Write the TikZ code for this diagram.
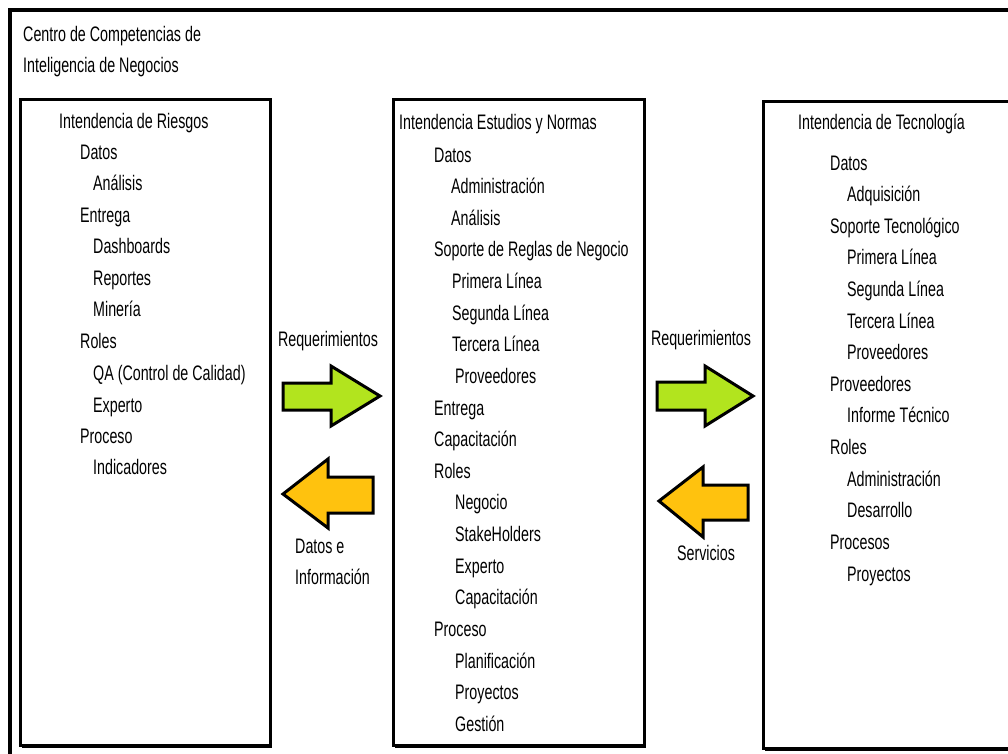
\documentclass[tikz,border=0pt]{standalone}
\usepackage{fontspec}
\setmainfont{Liberation Sans}[FakeStretch=0.68]
\definecolor{limeA}{RGB}{178,228,30}
\definecolor{goldA}{RGB}{255,194,14}
\begin{document}
\begin{tikzpicture}[x=1pt,y=-1pt,
  txt/.style={anchor=base west,inner sep=0pt,font=\fontsize{21}{25}\selectfont},
  ctxt/.style={anchor=base,inner sep=0pt,font=\fontsize{21}{25}\selectfont},
  box/.style={draw,line width=3pt,fill=white,anchor=north west,inner sep=0pt},
  shadow/.style={fill=black},
  arr/.style={draw,line width=3pt,line join=miter}]
\useasboundingbox (0,0) rectangle (1008,753);
\clip (0,0) rectangle (1008,753);
% outer frame
\draw[line width=4pt] (1020,10) -- (10,10) -- (10,770);
\node[txt] (h1) at (23,41) {Centro de Competencias de};
\node[txt] (h2) at (23,72) {Inteligencia de Negocios};
% shadows
\fill[shadow] (22,101) rectangle (272,748);
\fill[shadow] (395,101) rectangle (646,748);
\fill[shadow] (765,102) rectangle (1030,751);
% boxes
\node[box,minimum width=250pt,minimum height=646pt] (lbox) at (19,98) {};
\node[box,minimum width=251pt,minimum height=646pt] (mbox) at (392,98) {};
\node[box,minimum width=270pt,minimum height=647pt] (rbox) at (762,100) {};
% left box text
\node[txt] (l0) at (59,128.5) {Intendencia de Riesgos};
\node[txt] (l1) at (80,159.5) {Datos};
\node[txt] (l2) at (93,190.5) {Análisis};
\node[txt] (l3) at (80,222.5) {Entrega};
\node[txt] (l4) at (93,253.5) {Dashboards};
\node[txt] (l5) at (93,285.5) {Reportes};
\node[txt] (l6) at (93,316.5) {Minería};
\node[txt] (l7) at (80,348.5) {Roles};
\node[txt] (l8) at (93,380.5) {QA (Control de Calidad)};
\node[txt] (l9) at (93,412.5) {Experto};
\node[txt] (l10) at (80,443.5) {Proceso};
\node[txt] (l11) at (93,474.5) {Indicadores};
% middle box text
\node[txt] (m0) at (399,129.5) {Intendencia Estudios y Normas};
\node[txt] (m1) at (434,162.5) {Datos};
\node[txt] (m2) at (451,193.5) {Administración};
\node[txt] (m3) at (451,225.5) {Análisis};
\node[txt] (m4) at (434,256.5) {Soporte de Reglas de Negocio};
\node[txt] (m5) at (452,288.5) {Primera Línea};
\node[txt] (m6) at (452,320.5) {Segunda Línea};
\node[txt] (m7) at (452,351.5) {Tercera Línea};
\node[txt] (m8) at (455,383.5) {Proveedores};
\node[txt] (m9) at (434,415.5) {Entrega};
\node[txt] (m10) at (434,446.5) {Capacitación};
\node[txt] (m11) at (434,478.5) {Roles};
\node[txt] (m12) at (455,509.5) {Negocio};
\node[txt] (m13) at (455,541.5) {StakeHolders};
\node[txt] (m14) at (455,573.5) {Experto};
\node[txt] (m15) at (455,604.5) {Capacitación};
\node[txt] (m16) at (434,636.5) {Proceso};
\node[txt] (m17) at (455,668.5) {Planificación};
\node[txt] (m18) at (455,699.5) {Proyectos};
\node[txt] (m19) at (455,731.5) {Gestión};
% right box text
\node[txt] (r0) at (798,129.5) {Intendencia de Tecnología};
\node[txt] (r1) at (830,170.5) {Datos};
\node[txt] (r2) at (847,201.5) {Adquisición};
\node[txt] (r3) at (830,233.5) {Soporte Tecnológico};
\node[txt] (r4) at (847,264.5) {Primera Línea};
\node[txt] (r5) at (847,296.5) {Segunda Línea};
\node[txt] (r6) at (847,328.5) {Tercera Línea};
\node[txt] (r7) at (847,359.5) {Proveedores};
\node[txt] (r8) at (830,391.5) {Proveedores};
\node[txt] (r9) at (847,422.5) {Informe Técnico};
\node[txt] (r10) at (830,454.5) {Roles};
\node[txt] (r11) at (847,486.5) {Administración};
\node[txt] (r12) at (847,517.5) {Desarrollo};
\node[txt] (r13) at (830,549.5) {Procesos};
\node[txt] (r14) at (847,581.5) {Proyectos};
% arrows left
\node[ctxt] (req1) at (328,346) {Requerimientos};
\draw[arr,fill=limeA] (283,383) -- (331,383) -- (331,366) -- (380,396) -- (331,426) -- (331,410) -- (283,410) -- cycle;
\draw[arr,fill=goldA] (373,477) -- (328,477) -- (328,459) -- (283,494) -- (328,528) -- (328,513) -- (373,513) -- cycle;
\node[txt] (di1) at (295,553) {Datos e};
\node[txt] (di2) at (295,584) {Información};
% arrows right
\node[ctxt] (req2) at (701,345) {Requerimientos};
\draw[arr,fill=limeA] (657,382) -- (705,382) -- (705,366) -- (753,396) -- (705,426) -- (705,410) -- (657,410) -- cycle;
\draw[arr,fill=goldA] (748,485) -- (703,485) -- (703,467) -- (659,501) -- (703,537) -- (703,520) -- (748,520) -- cycle;
\node[ctxt] (serv) at (706,560) {Servicios};
\end{tikzpicture}
\end{document}
